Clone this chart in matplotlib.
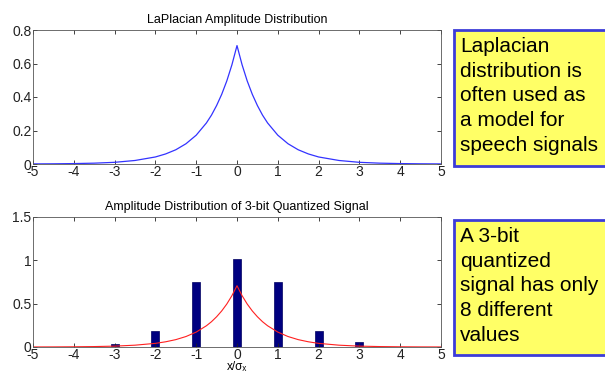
import matplotlib.pyplot as plt
from matplotlib.patches import Rectangle

plt.rcParams['font.family'] = ['Liberation Sans', 'DejaVu Sans']
plt.rcParams['axes.unicode_minus'] = False

# Laplacian curve
lap_x = [-5, -4.5, -4, -3.5, -3, -2.5, -2, -1.75, -1.5, -1.25, -1, -0.75, -0.625,
         -0.5, -0.375, -0.25, -0.125, 0, 0.125, 0.25, 0.375, 0.5, 0.625, 0.75, 1,
         1.25, 1.5, 1.75, 2, 2.5, 3, 3.5, 4, 4.5, 5]
lap_y = [0.0006, 0.0012, 0.0025, 0.005, 0.010, 0.021, 0.042, 0.060, 0.085, 0.121,
         0.172, 0.245, 0.292, 0.349, 0.416, 0.496, 0.592, 0.707, 0.592, 0.496,
         0.416, 0.349, 0.292, 0.245, 0.172, 0.121, 0.085, 0.060, 0.042, 0.021,
         0.010, 0.005, 0.0025, 0.0012, 0.0006]

# quantized levels and their heights
levels = [-4, -3, -2, -1, 0, 1, 2, 3]
heights = [0.005, 0.04, 0.18, 0.75, 1.01, 0.75, 0.18, 0.055]

note1 = "Laplacian\ndistribution is\noften used as\na model for\nspeech signals"
note2 = "A 3-bit\nquantized\nsignal has only\n8 different\nvalues"

fig = plt.figure(figsize=(6.05, 3.75), dpi=100)

def matlab_axes(ax):
    ax.set_xlim(-5, 5)
    ax.set_xticks(range(-5, 6))
    ax.tick_params(direction='in', top=True, right=True, labelsize=10,
                   length=3, width=0.6, colors='#222222', pad=1)
    for s in ax.spines.values():
        s.set_linewidth(0.6)
        s.set_color('#555555')

ax1 = fig.add_axes([33/605, 1 - 164/375, 408/605, 134/375])
ax1.plot(lap_x, lap_y, color='#3333ff', lw=0.9)
ax1.set_ylim(0, 0.8)
ax1.set_yticks([0, 0.2, 0.4, 0.6, 0.8])
ax1.set_yticklabels(['0', '0.2', '0.4', '0.6', '0.8'])
matlab_axes(ax1)
ax1.set_title('LaPlacian Amplitude Distribution', fontsize=9, pad=5)

ax2 = fig.add_axes([33/605, 1 - 347/375, 408/605, 130/375])
ax2.bar(levels, heights, width=0.2, color='#000080', edgecolor='#000060', lw=0.5)
ax2.plot(lap_x, lap_y, color='#ff2020', lw=0.8)
ax2.set_ylim(0, 1.5)
ax2.set_yticks([0, 0.5, 1, 1.5])
ax2.set_yticklabels(['0', '0.5', '1', '1.5'])
matlab_axes(ax2)
ax2.set_title('Amplitude Distribution of 3-bit Quantized Signal', fontsize=9, pad=5)
ax2.set_xlabel('x/σₓ', fontsize=8.5, labelpad=-1)

for y0, y1, txt in [(30, 166, note1), (220, 355, note2)]:
    fig.patches.append(Rectangle((454/605, 1 - y1/375), 160/605, (y1 - y0)/375,
                                 transform=fig.transFigure, facecolor='#ffff66',
                                 edgecolor='#3c3cd8', lw=2))
    fig.text(460/605, 1 - (y0 + 7)/375, txt, fontsize=15, va='top', ha='left',
             linespacing=1.38)

fig.savefig('out.png', dpi=100)
